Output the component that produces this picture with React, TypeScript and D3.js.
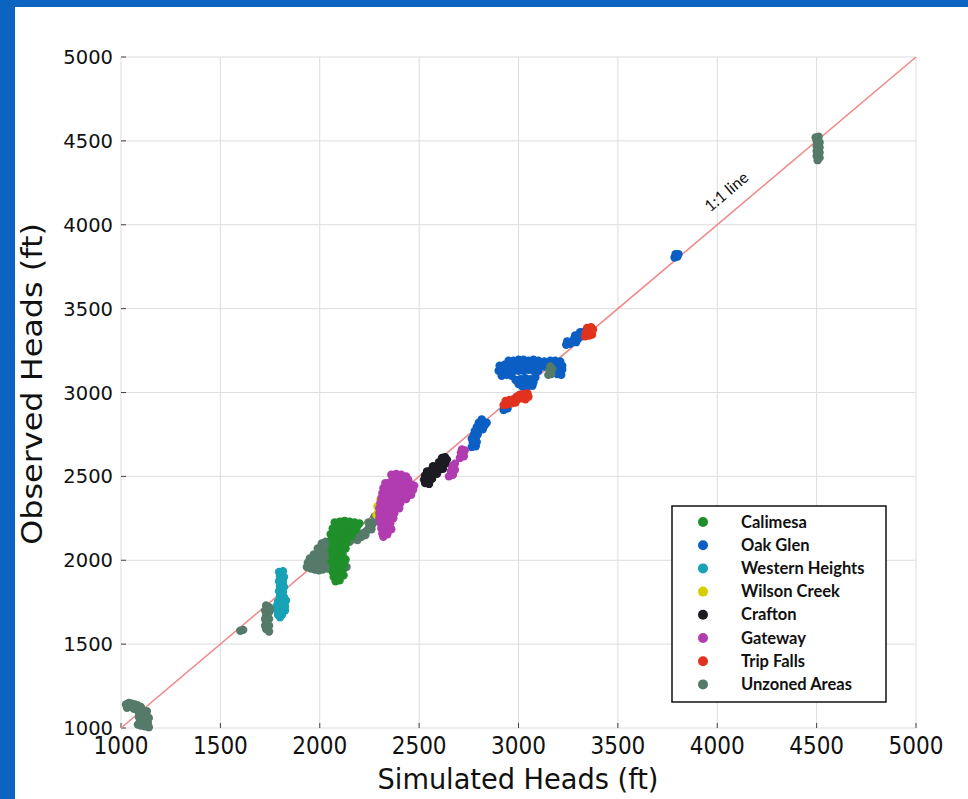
import React from 'react';
import * as d3 from 'd3';

// axis ticks
const xTicks = [1000, 1500, 2000, 2500, 3000, 3500, 4000, 4500, 5000];
const yTicks = [1000, 1500, 2000, 2500, 3000, 3500, 4000, 4500, 5000];

// [simulated, observed] heads, ft
const unzoned: [number, number][] = [
  // ~1100 ft
  [1025, 1140], [1040, 1150], [1055, 1145], [1070, 1140], [1085, 1135], [1100, 1125],
  [1030, 1120], [1050, 1125], [1065, 1115], [1080, 1110], [1095, 1105], [1110, 1100],
  [1090, 1090], [1105, 1080], [1120, 1090], [1130, 1070], [1090, 1065], [1110, 1060],
  [1125, 1050], [1140, 1060], [1095, 1040], [1115, 1035], [1135, 1030], [1100, 1015],
  [1120, 1010], [1140, 1005], [1085, 1020], [1130, 1100],
  // ~1600 ft
  [1600, 1580], [1615, 1585],
  // ~1730 ft
  [1730, 1730], [1745, 1720], [1725, 1700], [1745, 1690], [1730, 1670], [1745, 1650],
  [1730, 1630], [1745, 1610], [1730, 1590], [1745, 1575], [1725, 1610], [1725, 1650],
  [1750, 1710],
  // ~2000 ft
  [1935, 1960], [1955, 1950], [1975, 1945], [1995, 1940], [2015, 1945], [2040, 1950],
  [2065, 1940], [2090, 1945], [2115, 1950], [2135, 1960], [1940, 1985], [1960, 1980],
  [1985, 1975], [2010, 1975], [2035, 1980], [1950, 2010], [1975, 2005], [2000, 2005],
  [2025, 2010], [2045, 2015], [1970, 2035], [1995, 2040], [2020, 2040], [2040, 2050],
  [1990, 2070], [2015, 2075], [2035, 2085], [2010, 2100], [2030, 2110],
  // ~2200 ft
  [2150, 2110], [2170, 2125], [2190, 2120], [2210, 2140], [2200, 2160], [2225, 2165],
  [2240, 2180], [2230, 2150], [2250, 2200], [2265, 2215], [2260, 2185], [2280, 2235],
  [2275, 2260], [2290, 2250], [2185, 2145], [2245, 2225],
  // ~3150 ft
  [3150, 3105], [3165, 3110], [3155, 3135], [3170, 3140], [3160, 3155],
  // ~4500 ft
  [4495, 4520], [4510, 4525], [4500, 4500], [4515, 4490], [4500, 4470], [4515, 4460],
  [4500, 4440], [4515, 4430], [4500, 4410], [4515, 4400], [4505, 4385],
];

const westernHeights: [number, number][] = [
  [1795, 1930], [1815, 1935], [1800, 1905], [1820, 1900], [1795, 1875], [1815, 1870],
  [1800, 1845], [1820, 1840], [1795, 1815], [1815, 1810], [1800, 1785], [1820, 1780],
  [1790, 1755], [1810, 1755], [1830, 1760], [1785, 1730], [1805, 1730], [1825, 1725],
  [1785, 1700], [1805, 1700], [1825, 1700], [1790, 1675], [1810, 1675], [1800, 1660],
];

const calimesa: [number, number][] = [
  [2080, 1875], [2100, 1880], [2070, 1900], [2095, 1905], [2120, 1910], [2065, 1930],
  [2090, 1935], [2115, 1940], [2070, 1960], [2095, 1965], [2120, 1970], [2060, 1990],
  [2085, 1995], [2110, 2000], [2130, 2005], [2065, 2025], [2090, 2030], [2115, 2035],
  [2060, 2055], [2085, 2060], [2110, 2065], [2130, 2070], [2065, 2090], [2090, 2095],
  [2115, 2100], [2135, 2105],
  [2060, 2125], [2085, 2130], [2110, 2135], [2135, 2140], [2160, 2145], [2055, 2155],
  [2080, 2160], [2105, 2165], [2130, 2170], [2155, 2175], [2180, 2180], [2065, 2190],
  [2090, 2195], [2115, 2200], [2140, 2205], [2165, 2210], [2190, 2205], [2075, 2225],
  [2100, 2230], [2125, 2235], [2150, 2230], [2175, 2225], [2200, 2220],
];

const wilsonCreek: [number, number][] = [
  [2285, 2270], [2295, 2290], [2300, 2310], [2310, 2330], [2315, 2350], [2325, 2370],
  [2330, 2390], [2340, 2410], [2345, 2430], [2350, 2445], [2290, 2320], [2305, 2360],
  [2320, 2400],
];

const gateway: [number, number][] = [
  [2360, 2510], [2385, 2515], [2410, 2510], [2435, 2500], [2370, 2490], [2395, 2490],
  [2420, 2485], [2445, 2480],
  [2330, 2460], [2355, 2465], [2380, 2465], [2405, 2465], [2430, 2460], [2455, 2455],
  [2475, 2445], [2320, 2430], [2345, 2435], [2370, 2435], [2395, 2435], [2420, 2435],
  [2445, 2430], [2470, 2420], [2315, 2400], [2340, 2405], [2365, 2405], [2390, 2405],
  [2415, 2405], [2440, 2400], [2460, 2390], [2310, 2370], [2335, 2375], [2360, 2375],
  [2385, 2375], [2410, 2370], [2435, 2365], [2305, 2340], [2330, 2345], [2355, 2345],
  [2380, 2345], [2405, 2340], [2300, 2310], [2325, 2315], [2350, 2315], [2375, 2315],
  [2400, 2310],
  [2300, 2280], [2325, 2285], [2350, 2285], [2375, 2280], [2300, 2250], [2325, 2255],
  [2350, 2255], [2370, 2250], [2305, 2220], [2330, 2225], [2355, 2220], [2310, 2190],
  [2335, 2190], [2360, 2185], [2315, 2160], [2340, 2155], [2320, 2140],
  [2650, 2500], [2670, 2510], [2660, 2530], [2680, 2540], [2665, 2560], [2680, 2575],
  [2705, 2610], [2725, 2620], [2710, 2640], [2730, 2655], [2715, 2660],
];

const crafton: [number, number][] = [
  [2530, 2460], [2550, 2455], [2525, 2480], [2545, 2480], [2565, 2485], [2530, 2505],
  [2550, 2510], [2570, 2510], [2590, 2515], [2540, 2530], [2560, 2535], [2580, 2535],
  [2600, 2540], [2620, 2545], [2570, 2560], [2590, 2560], [2610, 2565], [2630, 2575],
  [2600, 2585], [2620, 2595], [2640, 2600], [2615, 2610], [2630, 2615],
];

const oakGlen: [number, number][] = [
  // ~2800 ft
  [2765, 2675], [2785, 2680], [2770, 2700], [2790, 2705], [2765, 2725], [2785, 2730],
  [2775, 2745], [2795, 2750], [2780, 2770], [2800, 2775], [2820, 2780], [2790, 2795],
  [2810, 2800], [2830, 2805], [2800, 2820], [2820, 2825], [2840, 2820], [2815, 2840],
  [2925, 2895], [2945, 2905], [2930, 2920],
  // ~3150 ft
  [2950, 3190], [2975, 3190], [3000, 3195], [3025, 3195], [3050, 3190], [3075, 3195],
  [3100, 3190], [3130, 3185], [3160, 3190], [3185, 3190], [3210, 3185],
  [2905, 3160], [2930, 3165], [2955, 3160], [2980, 3160], [3005, 3165], [3030, 3160],
  [3055, 3160], [3080, 3165], [3105, 3160], [3130, 3155], [3165, 3160], [3195, 3165],
  [3220, 3160],
  [2900, 3130], [2925, 3135], [2950, 3130], [2975, 3130], [3000, 3130], [3025, 3130],
  [3050, 3135], [3075, 3130], [3100, 3130], [3200, 3130], [3220, 3135],
  [2915, 3100], [2940, 3105], [2965, 3100], [3195, 3110], [3215, 3105],
  [2985, 3075], [3010, 3080], [3035, 3085], [3060, 3080], [3085, 3090], [3000, 3050],
  [3025, 3055], [3050, 3055], [3075, 3060], [3020, 3035], [3045, 3035], [3070, 3040],
  // ~3300 ft
  [3240, 3285], [3260, 3290], [3245, 3305], [3270, 3305], [3280, 3320], [3290, 3300],
  [3300, 3320], [3285, 3340], [3305, 3345], [3320, 3335], [3310, 3360], [3325, 3360],
  // ~3800 ft
  [3785, 3805], [3800, 3810], [3790, 3825], [3805, 3825],
];

const tripFalls: [number, number][] = [
  [2925, 2925], [2945, 2930], [2965, 2935], [2985, 2940], [2935, 2950], [2955, 2955],
  [2975, 2960], [2995, 2960], [3015, 2965], [3035, 2960], [3050, 2975], [3005, 2985],
  [3025, 2990], [3045, 2995], [2990, 2975],
  [3335, 3335], [3355, 3340], [3370, 3345], [3340, 3360], [3360, 3365], [3345, 3385],
  [3365, 3390], [3375, 3375],
];

const zones = [
  { name: 'Calimesa', color: '#1f8f2a', data: calimesa },
  { name: 'Oak Glen', color: '#0b5fc4', data: oakGlen },
  { name: 'Western Heights', color: '#17a2b5', data: westernHeights },
  { name: 'Wilson Creek', color: '#d4d000', data: wilsonCreek },
  { name: 'Crafton', color: '#1c1c22', data: crafton },
  { name: 'Gateway', color: '#b03cb0', data: gateway },
  { name: 'Trip Falls', color: '#e0321e', data: tripFalls },
  { name: 'Unzoned Areas', color: '#557a6a', data: unzoned },
];

// draw order so the blobs overlap like the original
const drawOrder = ['Western Heights', 'Oak Glen', 'Unzoned Areas', 'Calimesa', 'Wilson Creek', 'Gateway', 'Crafton', 'Trip Falls'];

export default function App() {
  const W = 968, H = 799;
  const x = d3.scaleLinear().domain([1000, 5000]).range([121, 916]);
  const y = d3.scaleLinear().domain([1000, 5000]).range([728, 57]);
  const line = d3.line<number>().x((d) => x(d)).y((d) => y(d));

  const lx = 672, ly = 506;

  return (
    <svg width={W} height={H} style={{ position: 'absolute', left: 0, top: 0, background: '#fff' }}>
      <rect x={0} y={0} width={W} height={H} fill="#fff" />
      {/* blue frame */}
      <rect x={0} y={0} width={W} height={7} fill="#0c64c0" />
      <rect x={0} y={0} width={15} height={H} fill="#0c64c0" />

      {/* grid */}
      <g stroke="#dddddd" strokeWidth={1}>
        {xTicks.map((t) => (
          <line key={'gx' + t} x1={x(t)} x2={x(t)} y1={y(5000)} y2={y(1000)} />
        ))}
        {yTicks.map((t) => (
          <line key={'gy' + t} x1={x(1000)} x2={x(5000)} y1={y(t)} y2={y(t)} />
        ))}
      </g>
      {/* inward ticks */}
      <g stroke="#444" strokeWidth={1}>
        {xTicks.map((t) => (
          <line key={'tx' + t} x1={x(t)} x2={x(t)} y1={y(1000)} y2={y(1000) - 5} />
        ))}
        {yTicks.map((t) => (
          <line key={'ty' + t} x1={x(1000)} x2={x(1000) + 5} y1={y(t)} y2={y(t)} />
        ))}
      </g>

      {/* 1:1 line */}
      <path d={line([1000, 5000]) || ''} stroke="#ee8a8a" strokeWidth={1.6} fill="none" />

      {/* points */}
      {drawOrder.map((n) => {
        const z = zones.find((d) => d.name === n)!;
        return (
          <g key={n} fill={z.color}>
            {z.data.map((d, i) => (
              <circle key={i} cx={x(d[0])} cy={y(d[1])} r={4.2} />
            ))}
          </g>
        );
      })}

      <text
        x={0}
        y={0}
        transform={`translate(730,196) rotate(-40)`}
        textAnchor="middle"
        fontFamily="Lato, sans-serif"
        fontSize={16}
        fill="#111"
      >
        1:1 line
      </text>

      {/* tick labels */}
      <g fontFamily="DejaVu Sans, sans-serif" fontSize={19.5} fill="#111">
        {yTicks.map((t) => (
          <text key={'ly' + t} x={113} y={y(t) + 7} textAnchor="end">
            {t}
          </text>
        ))}
      </g>
      <g fontFamily="DejaVu Sans Condensed, DejaVu Sans, sans-serif" fontSize={24} fill="#111">
        {xTicks.map((t) => (
          <text key={'lx' + t} x={x(t)} y={754} textAnchor="middle">
            {t}
          </text>
        ))}
      </g>

      {/* axis titles */}
      <text
        transform="translate(518,789) scale(1.08,1)"
        textAnchor="middle"
        fontFamily="DejaVu Sans Condensed, DejaVu Sans, sans-serif"
        fontSize={28}
        fill="#111"
      >
        Simulated Heads (ft)
      </text>
      <text
        transform={`translate(42,384) rotate(-90) scale(1.1,1)`}
        textAnchor="middle"
        fontFamily="DejaVu Sans, sans-serif"
        fontSize={29}
        fill="#111"
      >
        Observed Heads (ft)
      </text>

      {/* legend */}
      <rect x={lx} y={ly} width={214} height={196} fill="#fff" stroke="#111" strokeWidth={1.5} />
      {zones.map((z, i) => (
        <g key={z.name} transform={`translate(${lx},${ly + 16 + i * 23.2})`}>
          <circle cx={31} cy={0} r={5} fill={z.color} />
          <text x={69} y={5.5} fontFamily="Lato, sans-serif" fontWeight="bold" fontSize={16.5} fill="#111">
            {z.name}
          </text>
        </g>
      ))}
    </svg>
  );
}
